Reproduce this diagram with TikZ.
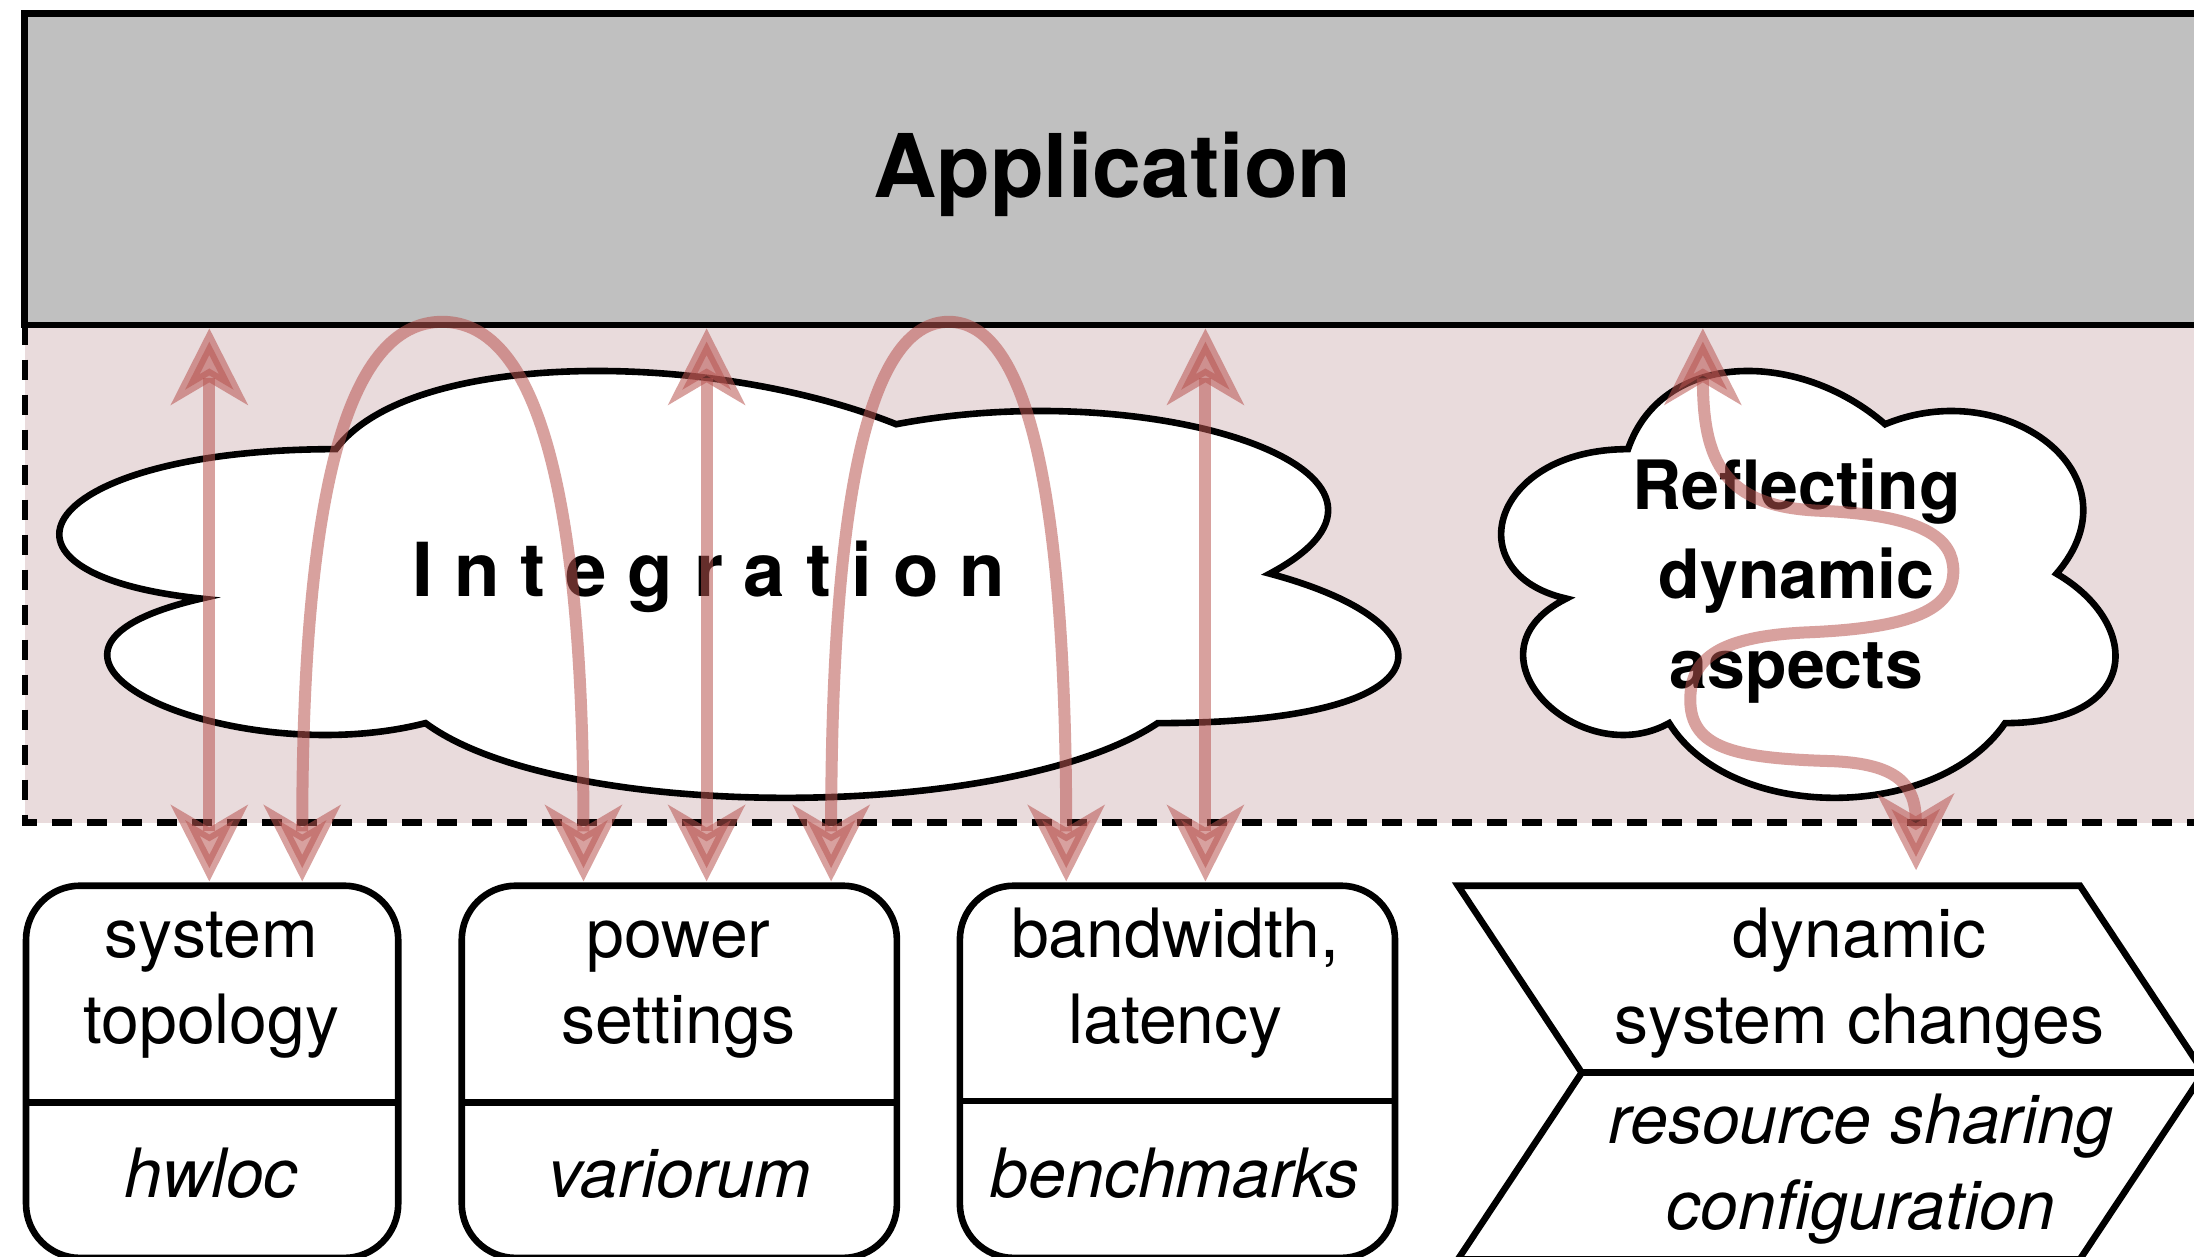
\documentclass[tikz,border=0pt]{standalone}
\usepackage{fontspec}
\setmainfont{TeX Gyre Heros}
\usetikzlibrary{arrows.meta,fit,calc}

\definecolor{appgray}{HTML}{C0C0C0}
\definecolor{layerpink}{HTML}{E9DBDC}
\definecolor{flowred}{HTML}{B85450}

\tikzset{
  outline/.style={draw=black, line width=0.066cm},
  layerdash/.style={draw=black, line width=0.066cm, dash pattern=on 0.2cm off 0.15cm},
  >={Stealth[length=0.76cm, width=0.76cm, inset=0.22cm]},
  flow/.style={draw=flowred, line width=0.12cm, opacity=0.55, <->},
  compbox/.style={outline, fill=white, rounded corners=0.54cm, inner sep=0pt},
  plain/.style={anchor=base, inner sep=0pt, font=\fontsize{19.35}{24.7}\selectfont},
  tool/.style={plain, font=\fontsize{19.35}{24.7}\selectfont\itshape},
  bigtitle/.style={anchor=base, inner sep=0pt, font=\fontsize{25}{30}\selectfont\bfseries},
  cloudtitle/.style={anchor=base, inner sep=0pt, font=\fontsize{21.2}{25}\selectfont\bfseries},
  cloudtext/.style={anchor=base, inner sep=0pt, font=\fontsize{19.35}{25}\selectfont\bfseries}
}

\begin{document}
\begin{tikzpicture}[x=0.013992cm, y=-0.013992cm]
\useasboundingbox (0,0) rectangle (1568,898);

% integration layer
\fill[layerpink] (18,232) rectangle (1580,588);
\draw[layerdash] (18,232) -- (18,588) -- (1580,588);

% application layer
\node[fit={(17.5,9.5) (1575,232.3)}, inner sep=0pt, outline, fill=appgray] (app) {};
\node[bigtitle] (apptitle) at (795,141.5) {Application};

% integration cloud
\draw[outline, fill=white] (240,321)
  .. controls (26.4,321) and (-27,410) .. (143.9,427.8)
  .. controls (-27,467) and (165.2,552.4) .. (304.1,516.8)
  .. controls (400.2,588) and (720.6,588) .. (827.4,516.8)
  .. controls (1041,516.8) and (1041,445.6) .. (907.5,410)
  .. controls (1041,338.8) and (827.4,267.6) .. (640.5,303.2)
  .. controls (507,249.8) and (293.4,249.8) .. (240,321) -- cycle;
\node[cloudtitle] (integ) at (506.5,426) {I n t e g r a t i o n};

% dynamic aspects cloud
\draw[outline, fill=white] (1163.5,321)
  .. controls (1065.5,321) and (1041,410) .. (1119.4,427.8)
  .. controls (1041,467) and (1129.2,552.4) .. (1192.9,516.8)
  .. controls (1237,588) and (1384,588) .. (1433,516.8)
  .. controls (1531,516.8) and (1531,445.6) .. (1469.75,410)
  .. controls (1531,338.8) and (1433,267.6) .. (1347.25,303.2)
  .. controls (1286,249.8) and (1188,249.8) .. (1163.5,321) -- cycle;
\node[cloudtext] (dynA) at (1284,364) {Reflecting};
\node[cloudtext] (dynB) at (1284,428) {dynamic};
\node[cloudtext] (dynC) at (1284,492) {aspects};

% component boxes
\node[fit={(18.6,633) (284.6,899)}, compbox] (topo) {};
\draw[outline] (18.6,788) -- (284.6,788);
\node[plain] (topoA) at (151,684) {system};
\node[plain] (topoB) at (151,745.6) {topology};
\node[tool]  (hwloc) at (151,856) {hwloc};

\node[fit={(330,633) (641,899)}, compbox] (power) {};
\draw[outline] (330,788) -- (641,788);
\node[plain] (powerA) at (485,684) {power};
\node[plain] (powerB) at (485,745.6) {settings};
\node[tool]  (vario) at (486,856) {variorum};

\node[fit={(686,633) (997,899)}, compbox] (bw) {};
\draw[outline] (686,787) -- (997,787);
\node[plain] (bwA) at (840,684) {bandwidth,};
\node[plain] (bwB) at (840,745.6) {latency};
\node[tool]  (bench) at (840,856) {benchmarks};

% dynamic system changes chevron
\draw[outline, fill=white] (1042,633) -- (1486.5,633) -- (1575,766.6) -- (1486.5,900)
  -- (1042,900) -- (1130.4,766.6) -- cycle;
\draw[outline] (1130.4,766.6) -- (1575,766.6);
\node[plain] (chgA) at (1329,684) {dynamic};
\node[plain] (chgB) at (1329,745.6) {system changes};
\node[tool]  (chgC) at (1330,817) {resource sharing};
\node[tool]  (chgD) at (1330,879) {configuration};

% arrow end points on the component boxes
\coordinate (e1) at (149.6,630);
\coordinate (e2) at (216,630);
\coordinate (e3) at (417,630);
\coordinate (e4) at (505,630);
\coordinate (e5) at (594,630);
\coordinate (e6) at (762,630);
\coordinate (e7) at (861.5,630);
\coordinate (e8) at (1369.4,622);

% information flows
\draw[flow] (app.south -| e1) -- (e1);
\draw[flow] (e2) .. controls +(0,-270) and +(-70,0) .. (316,230)
                 .. controls +(70,0) and +(0,-270) .. (e3);
\draw[flow] (app.south -| e4) -- (e4);
\draw[flow] (e5) .. controls +(0,-270) and +(-58,0) .. (678,230)
                 .. controls +(58,0) and +(0,-270) .. (e6);
\draw[flow] (app.south -| e7) -- (e7);
\draw[flow] (app.south -| 1217,0) .. controls (1217,330) and (1232,362) .. (1300,365)
  .. controls (1375,368) and (1396,385) .. (1396,408)
  .. controls (1396,435) and (1368,449) .. (1290,452)
  .. controls (1230,455) and (1208,470) .. (1208,500)
  .. controls (1208,535) and (1240,542) .. (1310,544)
  .. controls (1355,546) and (1369,560) .. (e8);
\end{tikzpicture}
\end{document}
